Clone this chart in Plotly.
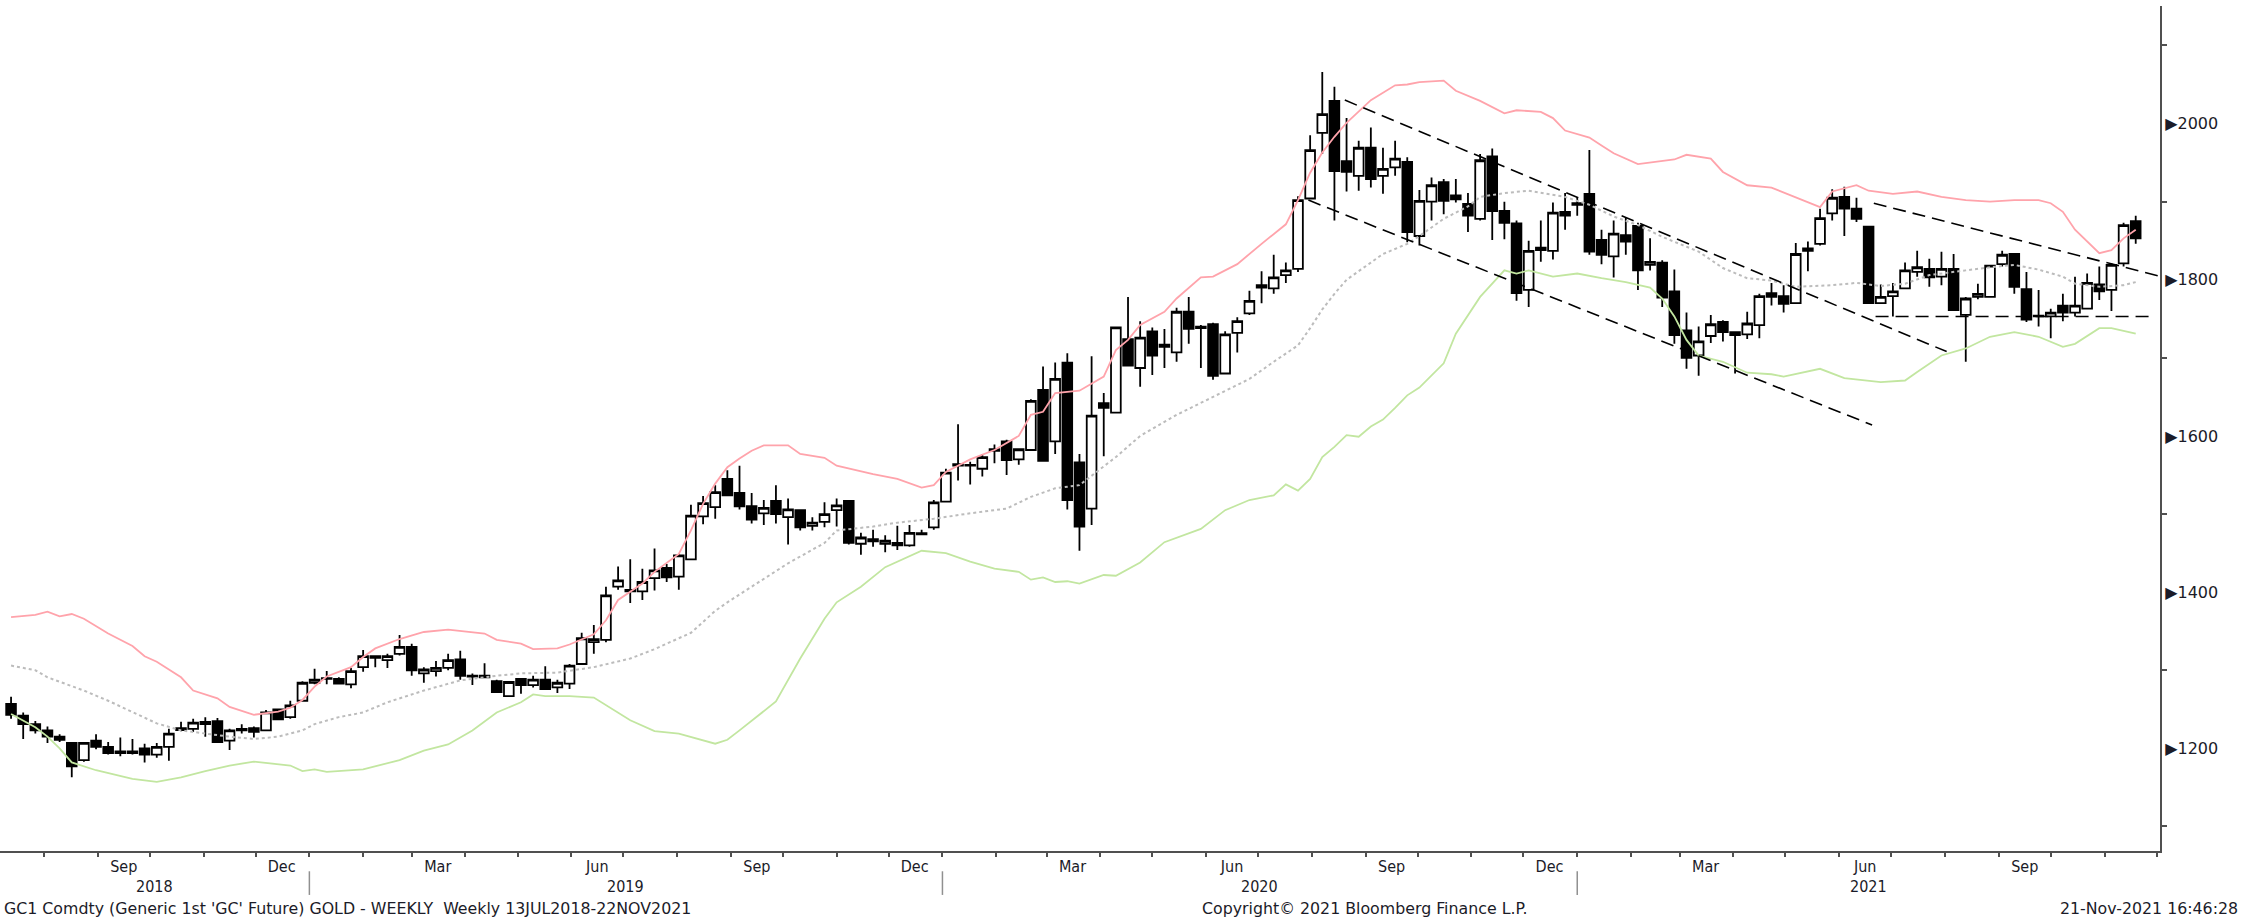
import numpy as np
import pandas as pd
import plotly.graph_objects as go

# weekly GC1 candles, 13 Jul 2018 .. 19 Nov 2021
START = "2018-07-13"
OPEN = [1257, 1242, 1231, 1223, 1215, 1207, 1185, 1210, 1202, 1196, 1196, 1200, 1192, 1202, 1226, 1225,
        1234, 1235, 1210, 1225, 1226, 1223, 1250, 1240, 1261, 1284, 1290, 1289, 1282, 1304, 1318, 1313,
        1321, 1330, 1296, 1299, 1303, 1314, 1293, 1293, 1286, 1267, 1289, 1281, 1288, 1278, 1283, 1308,
        1336, 1339, 1407, 1403, 1401, 1418, 1431, 1420, 1442, 1497, 1509, 1545, 1527, 1510, 1501, 1517,
        1496, 1505, 1485, 1490, 1505, 1517, 1462, 1468, 1462, 1463, 1460, 1475.5, 1483, 1516, 1564, 1563,
        1558, 1583, 1593, 1570, 1582, 1659, 1593, 1694, 1566, 1507, 1642, 1630, 1724, 1687, 1734, 1717,
        1707, 1759, 1740, 1743, 1680, 1732, 1757, 1793, 1789, 1806, 1814, 1904, 1988, 2029, 1952, 1933,
        1969, 1933, 1944, 1951, 1856, 1900, 1925, 1908, 1897, 1878, 1958, 1888, 1872, 1787, 1838, 1837,
        1887, 1896, 1910, 1851, 1830, 1857, 1869, 1819, 1822, 1785, 1735, 1703, 1728, 1746, 1733, 1730,
        1742, 1783, 1779, 1770, 1837, 1846, 1885, 1906, 1891, 1868, 1770, 1779, 1789, 1810, 1814, 1804,
        1814, 1755, 1778, 1778, 1820, 1833, 1788, 1754, 1753, 1767, 1758, 1763, 1794, 1787, 1821, 1875]
HIGH = [1266, 1246, 1235, 1228, 1218, 1208, 1208, 1218, 1208, 1214, 1212, 1206, 1207, 1225, 1234, 1238,
        1240, 1239, 1225, 1231, 1228, 1249, 1251, 1261, 1286, 1302, 1299, 1291, 1303, 1326, 1319, 1321,
        1345, 1334, 1304, 1312, 1321, 1325, 1296, 1309, 1288, 1286, 1290, 1293, 1305, 1288, 1308, 1348,
        1358, 1407, 1433, 1442, 1430, 1456, 1436, 1449, 1512, 1523, 1537, 1556, 1562, 1527, 1518, 1537,
        1520, 1506, 1496, 1515, 1520, 1518, 1476, 1480, 1473, 1485, 1486, 1480, 1518, 1558, 1615, 1567,
        1577, 1589, 1595, 1584, 1647, 1689, 1694, 1706, 1577, 1702, 1655, 1740, 1778, 1747, 1739, 1737,
        1764, 1778, 1742, 1745, 1734, 1752, 1786, 1811, 1832, 1822, 1907, 1985, 2066, 2047, 2007, 1978,
        1995, 1969, 1978, 1957, 1915, 1931, 1929, 1929, 1911, 1961, 1968, 1900, 1876, 1850, 1876, 1899,
        1911, 1906, 1966, 1864, 1876, 1879, 1873, 1853, 1825, 1813, 1758, 1740, 1755, 1748, 1733, 1759,
        1782, 1796, 1793, 1847, 1849, 1891, 1916, 1919, 1905, 1869, 1794, 1796, 1822, 1837, 1827, 1836,
        1833, 1778, 1795, 1819, 1837, 1834, 1810, 1787, 1763, 1782, 1804, 1808, 1817, 1821, 1873, 1882]
LOW = [1238, 1212, 1219, 1207, 1208, 1163, 1183, 1199, 1192, 1190, 1192, 1182, 1188, 1184, 1222, 1221,
       1215, 1207, 1198, 1219, 1214, 1222, 1236, 1238, 1260, 1282, 1282, 1282, 1277, 1298, 1304, 1303,
       1319, 1293, 1284, 1292, 1300, 1288, 1281, 1290, 1271, 1266, 1270, 1278, 1275, 1271, 1276, 1307,
       1321, 1336, 1403, 1386, 1390, 1402, 1413, 1403, 1441, 1487, 1494, 1523, 1506, 1488, 1486, 1488,
       1461, 1479, 1479, 1483, 1484, 1461, 1448, 1458, 1451, 1454, 1458, 1474, 1480, 1516, 1543, 1538,
       1548, 1565, 1550, 1563, 1582, 1567, 1577, 1506, 1453, 1486, 1574, 1629, 1689, 1663, 1678, 1687,
       1695, 1718, 1687, 1672, 1680, 1707, 1755, 1770, 1782, 1796, 1810, 1903, 1961, 1876, 1913, 1914,
       1918, 1910, 1933, 1848, 1844, 1876, 1884, 1899, 1861, 1876, 1851, 1852, 1773, 1765, 1823, 1826,
       1864, 1882, 1832, 1820, 1803, 1832, 1787, 1812, 1765, 1718, 1686, 1677, 1719, 1721, 1680, 1724,
       1725, 1767, 1758, 1769, 1811, 1844, 1876, 1856, 1874, 1769, 1769, 1753, 1788, 1804, 1791, 1793,
       1760, 1695, 1775, 1777, 1817, 1782, 1746, 1740, 1725, 1747, 1753, 1762, 1774, 1760, 1817, 1846]
CLOSE = [1243, 1231, 1223, 1215, 1211, 1177, 1207, 1202, 1194, 1194, 1194, 1192, 1202, 1219, 1223.5, 1233,
         1231, 1208, 1223, 1223, 1221, 1246, 1237, 1255, 1284, 1288, 1289, 1283, 1299, 1318, 1316, 1318,
         1330, 1300, 1301, 1303, 1313, 1293, 1292, 1291, 1272, 1285, 1281, 1288, 1276, 1284, 1306, 1341,
         1340, 1396, 1415, 1401, 1413, 1428, 1419, 1447, 1498, 1514, 1528, 1524, 1510, 1493, 1508, 1500,
         1506, 1483, 1489, 1500, 1511, 1463, 1470, 1465, 1466, 1460, 1476, 1474, 1515, 1553, 1562, 1562,
         1573, 1581, 1569, 1583, 1645, 1568, 1673, 1518, 1484, 1626, 1636, 1739, 1690, 1726, 1703, 1714,
         1759, 1737, 1738, 1677, 1730, 1747, 1773, 1790, 1803, 1812, 1902, 1966, 2012, 1939, 1938, 1969,
         1929, 1942, 1955, 1861, 1901, 1921, 1901, 1903, 1882, 1953, 1888, 1873, 1783, 1837, 1841, 1886,
         1882, 1898, 1836, 1832, 1859, 1849, 1812, 1823, 1777, 1729, 1700, 1721, 1743, 1733, 1729, 1744,
         1779, 1778, 1769, 1833, 1840, 1879, 1905, 1891, 1878, 1770, 1778, 1785, 1812, 1816, 1803, 1814,
         1761, 1776, 1782, 1818, 1832, 1791, 1749, 1753, 1758, 1758, 1767, 1796, 1785, 1819, 1870, 1853]

# Bollinger bands read at week index
UPPER_WK = [0, 2, 3, 4, 5, 6, 8, 10, 11, 12, 14, 15, 17, 18, 20, 22, 23, 24, 25, 26, 28, 29, 30, 32, 34,
            36, 39, 40, 42, 43, 45, 46, 48, 49, 50, 52, 53, 55, 56, 57, 58, 59, 60, 61, 62, 64, 65, 67, 68,
            69, 71, 73, 74, 75, 76, 77, 79, 81, 83, 84, 85, 86, 88, 90, 91, 92, 93, 95, 96, 98, 99, 101,
            103, 105, 106, 107, 108, 109, 110, 111, 112, 114, 115, 116, 118, 119, 121, 123, 124, 126, 127,
            128, 130, 131, 132, 134, 135, 137, 138, 140, 141, 143, 145, 147, 149, 150, 152, 153, 155, 157,
            159, 161, 163, 165, 167, 168, 169, 170, 172, 173, 174, 175]
UPPER = [1368, 1371, 1375, 1369, 1372, 1366, 1347, 1331, 1318, 1311, 1291, 1274, 1264, 1253, 1243, 1247,
         1252, 1262, 1279, 1292, 1304, 1317, 1328, 1340, 1349, 1352, 1347, 1339, 1334, 1327, 1328, 1333,
         1346, 1364, 1390, 1411, 1426, 1449, 1479, 1513, 1539, 1560, 1571, 1581, 1588, 1588, 1577, 1572,
         1562, 1558, 1551, 1545, 1539, 1534, 1537, 1554, 1570, 1582, 1600, 1627, 1631, 1655, 1658, 1676,
         1710, 1723, 1742, 1759, 1776, 1803, 1804, 1820, 1846, 1871, 1902, 1937, 1963, 1983, 2001, 2016,
         2030, 2049, 2050, 2053, 2055, 2042, 2029, 2013, 2017, 2015, 2007, 1991, 1982, 1972, 1962, 1948,
         1950, 1954, 1960, 1955, 1938, 1921, 1918, 1906, 1893, 1913, 1921, 1914, 1910, 1913, 1906, 1902,
         1900, 1902, 1902, 1898, 1887, 1864, 1834, 1838, 1853, 1864]
MID_WK = [0, 2, 3, 6, 8, 10, 12, 14, 16, 18, 20, 22, 24, 25, 27, 29, 31, 34, 37, 40, 42, 45, 48, 51, 53,
          56, 58, 59, 61, 64, 67, 68, 71, 73, 76, 79, 82, 84, 86, 88, 91, 93, 96, 99, 102, 104, 106, 107,
          108, 109, 110, 112, 113, 115, 116, 118, 120, 121, 123, 125, 128, 130, 132, 134, 136, 139, 141,
          143, 145, 147, 150, 152, 154, 156, 158, 161, 163, 165, 167, 169, 170, 172, 174, 175]
MID = [1306, 1300, 1291, 1274, 1261, 1247, 1232, 1223, 1219, 1215, 1212, 1215, 1223, 1231, 1240, 1246,
       1259, 1274, 1287, 1293, 1296, 1297, 1304, 1315, 1327, 1348, 1376, 1387, 1407, 1437, 1463, 1479,
       1484, 1489, 1494, 1501, 1507, 1522, 1533, 1537, 1573, 1600, 1627, 1650, 1673, 1695, 1716, 1738,
       1762, 1782, 1800, 1822, 1833, 1846, 1856, 1878, 1894, 1906, 1911, 1914, 1906, 1896, 1881, 1870,
       1855, 1836, 1815, 1802, 1799, 1791, 1793, 1796, 1792, 1795, 1806, 1812, 1816, 1819, 1813, 1804,
       1795, 1791, 1793, 1797]
LOWER_WK = [0, 2, 3, 4, 5, 7, 10, 12, 14, 16, 18, 20, 23, 24, 25, 26, 29, 32, 34, 36, 38, 40, 42, 43, 44,
            46, 48, 51, 53, 55, 58, 59, 60, 63, 65, 67, 68, 70, 72, 74, 75, 77, 79, 81, 83, 84, 85, 86,
            87, 88, 89, 90, 91, 93, 95, 98, 100, 102, 104, 105, 106, 107, 108, 109, 110, 111, 112, 113,
            114, 115, 116, 118, 119, 121, 123, 124, 125, 127, 129, 131, 133, 135, 136, 137, 138, 139, 141,
            143, 145, 146, 149, 151, 154, 156, 157, 159, 161, 163, 165, 167, 169, 170, 172, 173, 175]
LOWER = [1244, 1227, 1215, 1200, 1182, 1172, 1161, 1157, 1163, 1171, 1178, 1183, 1178, 1171, 1173, 1170,
         1173, 1185, 1197, 1205, 1223, 1246, 1259, 1269, 1267, 1267, 1265, 1236, 1222, 1219, 1206, 1211,
         1223, 1260, 1315, 1366, 1387, 1407, 1432, 1446, 1453, 1450, 1439, 1430, 1426, 1416, 1419, 1413,
         1414, 1411, 1417, 1422, 1421, 1438, 1464, 1481, 1505, 1518, 1524, 1538, 1530, 1545, 1573, 1586,
         1601, 1599, 1612, 1621, 1636, 1652, 1662, 1693, 1731, 1778, 1812, 1808, 1812, 1804, 1808, 1802,
         1797, 1790, 1776, 1753, 1723, 1703, 1695, 1681, 1679, 1676, 1686, 1674, 1669, 1671, 1682, 1703,
         1712, 1727, 1733, 1727, 1714, 1718, 1738, 1738, 1731]

# hand-drawn trend lines (date, price)
CHANNEL_TOP_X = ["2020-08-20", "2021-08-02"]
CHANNEL_TOP_Y = [2030, 1708]
CHANNEL_BOT_X = ["2020-07-30", "2021-06-20"]
CHANNEL_BOT_Y = [1902, 1614]
WEDGE_TOP_X = ["2021-06-21", "2021-12-02"]
WEDGE_TOP_Y = [1898, 1805]
SUPPORT_X = ["2021-06-22", "2021-11-30"]
SUPPORT_Y = [1753, 1753]

Y_TICKS = [1200, 1400, 1600, 1800, 2000]
YEARS = [2018, 2019, 2020, 2021]

X_LEFT = pd.Timestamp("2018-07-06 15:00")
X_RIGHT = pd.Timestamp("2021-12-03")
AXIS = "#505050"
INK = "#1b1b28"
NARROW = "'DejaVu Sans Condensed', 'Liberation Sans Narrow', 'DejaVu Sans', sans-serif"
WIDE = "'DejaVu Sans', Verdana, sans-serif"

start = pd.Timestamp(START)
dates = start + pd.to_timedelta(np.arange(len(CLOSE)) * 7, unit="D")


def wk(idx):
    return start + pd.to_timedelta(np.array(idx) * 7, unit="D")


fig = go.Figure()
fig.add_trace(go.Scatter(x=wk(UPPER_WK), y=UPPER, mode="lines",
                         line=dict(color="#ffa3ab", width=1.8), hoverinfo="skip"))
fig.add_trace(go.Scatter(x=wk(LOWER_WK), y=LOWER, mode="lines",
                         line=dict(color="#c2e6a0", width=1.8), hoverinfo="skip"))
fig.add_trace(go.Scatter(x=wk(MID_WK), y=MID, mode="lines",
                         line=dict(color="#bcbcbc", width=2, dash="dot"), hoverinfo="skip"))
fig.add_trace(go.Candlestick(
    x=dates, open=OPEN, high=HIGH, low=LOW, close=CLOSE,
    increasing=dict(line=dict(color="black", width=1.8), fillcolor="white"),
    decreasing=dict(line=dict(color="black", width=1.8), fillcolor="black"),
    whiskerwidth=0,
))
for xs, ys in [(CHANNEL_TOP_X, CHANNEL_TOP_Y), (CHANNEL_BOT_X, CHANNEL_BOT_Y),
               (WEDGE_TOP_X, WEDGE_TOP_Y), (SUPPORT_X, SUPPORT_Y)]:
    fig.add_trace(go.Scatter(x=xs, y=ys, mode="lines", hoverinfo="skip",
                             line=dict(color="black", width=1.6, dash="13px,7px")))

# month ticks / quarterly labels
month_starts = pd.date_range("2018-08-01", "2021-12-01", freq="MS")
label_pos = pd.date_range("2018-09-01", "2021-09-01", freq="3MS") + pd.Timedelta(days=15)
label_txt = [d.strftime("%b") for d in label_pos]

fig.update_xaxes(
    type="date", range=[X_LEFT, X_RIGHT], rangeslider_visible=False,
    showgrid=False, zeroline=False, showline=True, linecolor=AXIS, linewidth=2,
    tickmode="array", tickvals=label_pos, ticktext=label_txt, ticks="",
    tickfont=dict(family=NARROW, size=16, color=INK),
    minor=dict(tickmode="array", tickvals=month_starts, ticks="outside",
               ticklen=4, tickwidth=1.5, tickcolor=AXIS, showgrid=False),
)
fig.update_yaxes(
    side="right", range=[1068.6, 2150.5], showgrid=False, zeroline=False,
    showline=True, linecolor=AXIS, linewidth=2,
    tickmode="array", tickvals=Y_TICKS, ticktext=["\u25b6" + str(v) for v in Y_TICKS],
    ticks="", tickfont=dict(family=WIDE, size=16, color=INK),
    ticklabelstandoff=0,
    minor=dict(tickmode="array", tickvals=[v + 100 for v in [1000] + Y_TICKS],
               ticks="outside", ticklen=5, tickwidth=1.5, tickcolor=AXIS),
)

# year row
for y in YEARS:
    a = max(pd.Timestamp(f"{y}-01-01"), X_LEFT)
    b = min(pd.Timestamp(f"{y + 1}-01-01"), X_RIGHT)
    fig.add_annotation(x=a + (b - a) / 2, y=0, xref="x", yref="paper", yshift=-35,
                       text=str(y), showarrow=False, yanchor="middle",
                       font=dict(family=NARROW, size=16, color=INK))
    if y > YEARS[0]:
        fig.add_shape(type="line", xref="x", yref="paper",
                      x0=f"{y}-01-01", x1=f"{y}-01-01", y0=-0.024, y1=-0.052,
                      line=dict(color="#909090", width=1.5))

foot = dict(family=WIDE, size=15.8, color=INK)
fig.add_annotation(x=0, y=0, xref="paper", yref="paper", xanchor="left", yanchor="middle",
                   xshift=2, yshift=-57, showarrow=False, font=foot,
                   text="GC1 Comdty (Generic 1st 'GC' Future) GOLD - WEEKLY  Weekly 13JUL2018-22NOV2021")
fig.add_annotation(x=0.632, y=0, xref="paper", yref="paper", xanchor="center", yanchor="middle",
                   yshift=-57, showarrow=False, font=foot,
                   text="Copyright\u00a9 2021 Bloomberg Finance L.P.")
fig.add_annotation(x=1.037, y=0, xref="paper", yref="paper", xanchor="right", yanchor="middle",
                   yshift=-57, showarrow=False, font=foot, text="21-Nov-2021 16:46:28")

fig.update_layout(
    width=2244, height=919,
    margin=dict(l=0, r=84, t=6, b=68),
    paper_bgcolor="white", plot_bgcolor="white",
    showlegend=False, hovermode=False, boxgap=0.2, boxgroupgap=0,
)

fig.write_html("out.html", config={"displayModeBar": False},
               post_script="document.body.style.margin='0';")
